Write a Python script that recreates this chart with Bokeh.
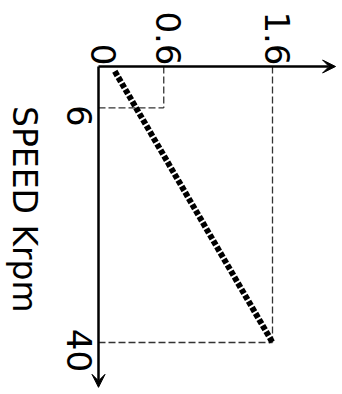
import math
from bokeh.plotting import figure
from bokeh.models import Range1d, Arrow, VeeHead
from bokeh.core.properties import value
from bokeh.embed import file_html
from bokeh.resources import INLINE

# Data (schematic): quantity vs speed (Krpm)
x_ticks = [0, 0.6, 1.6]
x_tick_labels = ["0", "0.6", "1.6"]
speed_ticks = [6, 40]
speed_tick_labels = ["6", "40"]
guide_x = [0.6, 1.6]          # values marked with dashed guides
guide_speed = [6, 40]
line_x = [0.15, 1.6]          # thick characteristic line
line_speed = [0.7, 40]
axis_title = "SPEED Krpm"

FONT = "DejaVu Sans"
W, H = 342, 394
OX, OY = 98, 66          # origin position in figure pixels
SX, SY = 108.75, 6.9     # pixels per unit
XMAX = 2.18
YMAX = 46.5

p = figure(width=W, height=H,
           x_range=Range1d(-OX / SX, (W - OX) / SX),
           y_range=Range1d((H - OY) / SY, -OY / SY),
           output_backend="svg", toolbar_location=None,
           x_axis_location=None, y_axis_location=None,
           min_border=0)
p.grid.visible = False
p.outline_line_color = None
p.background_fill_color = "white"

# dashed guides
x0 = list(guide_x) + [0] * len(guide_x)
y0 = [0] * len(guide_x) + list(guide_speed)
x1 = list(guide_x) + list(guide_x)
y1 = list(guide_speed) + list(guide_speed)
p.segment(x0=x0, y0=y0, x1=x1, y1=y1, line_color="#333333",
          line_width=1.3, line_dash="7 3")

# thick characteristic line
p.line(line_x, line_speed, line_width=6, line_color="black",
       line_dash="5 2", line_cap="butt")

# axes with arrow heads
p.add_layout(Arrow(end=VeeHead(size=13, fill_color="black", line_color="black"),
                   x_start=0, y_start=0, x_end=XMAX, y_end=0,
                   line_width=2.5, line_color="black"))
p.add_layout(Arrow(end=VeeHead(size=13, fill_color="black", line_color="black"),
                   x_start=0, y_start=0, x_end=0, y_end=YMAX,
                   line_width=2.5, line_color="black"))

# tick labels on the horizontal axis (above it, reading downward)
p.text(x=x_ticks, y=[0] * len(x_ticks), text=x_tick_labels,
       angle=-math.pi / 2, text_align="right", text_baseline="middle",
       x_offset=5, y_offset=-1,
       text_font=value(FONT), text_font_size="34px", text_color="black")

# tick labels on the vertical (speed) axis
p.text(x=[0] * len(speed_ticks), y=speed_ticks, text=speed_tick_labels,
       angle=-math.pi / 2, text_align="center", text_baseline="top",
       x_offset=-7, y_offset=8,
       text_font=value(FONT), text_font_size="34px", text_color="black")

# axis title
p.text(x=[-0.68], y=[20.7], text=[axis_title],
       angle=-math.pi / 2, text_align="center", text_baseline="middle",
       text_font=value(FONT), text_font_size="33px", text_color="black")

open("out.html", "w").write(file_html(p, INLINE))
